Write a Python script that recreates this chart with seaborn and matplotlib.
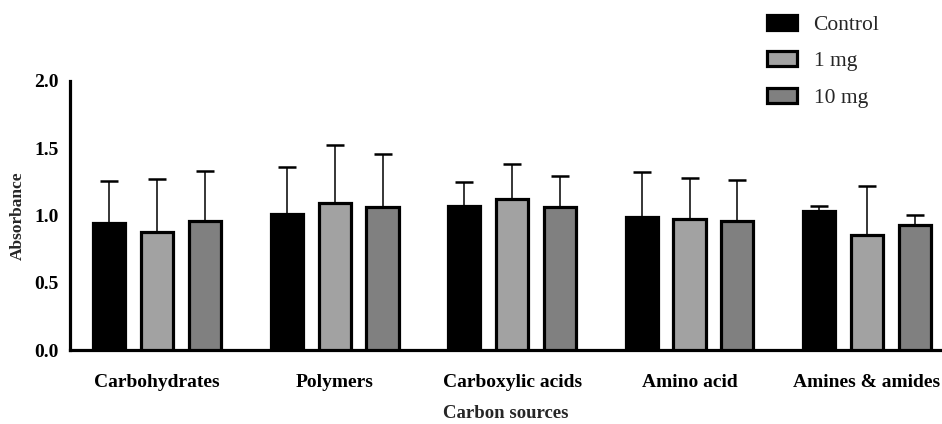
import matplotlib
matplotlib.use("Agg")
import matplotlib.pyplot as plt
import seaborn as sns
import pandas as pd
import numpy as np
from matplotlib.patches import Patch

categories = ["Carbohydrates", "Polymers", "Carboxylic acids", "Amino acid", "Amines & amides"]
groups = ["Control", "1 mg", "10 mg"]
control_mean = [0.94, 1.01, 1.07, 0.985, 1.03]
control_err = [0.315, 0.35, 0.175, 0.34, 0.04]
mg1_mean = [0.88, 1.095, 1.12, 0.975, 0.855]
mg1_err = [0.39, 0.43, 0.26, 0.305, 0.365]
mg10_mean = [0.955, 1.065, 1.06, 0.955, 0.93]
mg10_err = [0.375, 0.39, 0.235, 0.305, 0.075]
yticks = [0.0, 0.5, 1.0, 1.5, 2.0]
fills = ["#000000", "#a2a2a2", "#808080"]

sns.set_style("white")
plt.rcParams["font.family"] = ["Liberation Serif", "DejaVu Serif"]
plt.rcParams["font.weight"] = "bold"

means = [control_mean, mg1_mean, mg10_mean]
errs = [control_err, mg1_err, mg10_err]
rows = []
for g, m, e in zip(groups, means, errs):
    for c, mv, ev in zip(categories, m, e):
        rows.append({"Carbon sources": c, "Group": g, "Absorbance": mv, "err": ev})
df = pd.DataFrame(rows)

fig = plt.figure(figsize=(9.42, 4.24), dpi=100)
ax = fig.add_axes([0.0745, 0.1745, 0.925, 0.635])

sns.barplot(data=df, x="Carbon sources", y="Absorbance", hue="Group",
            hue_order=groups, order=categories, palette=fills,
            width=0.81, gap=0.33, errorbar=None, edgecolor="black",
            linewidth=2.3, ax=ax, legend=False, zorder=3)

# error bars (upper only) at bar centers
for bars, g in zip(ax.containers, groups):
    sub = df[df["Group"] == g].set_index("Carbon sources").loc[categories]
    xs = [b.get_x() + b.get_width() / 2 for b in bars]
    ax.errorbar(xs, sub["Absorbance"].values,
                yerr=[np.zeros(len(xs)), sub["err"].values],
                fmt="none", ecolor="black", elinewidth=1.1, capsize=6.5,
                capthick=1.8, zorder=2)

ax.set_ylim(0, 2.0)
ax.set_xlim(-0.49, 4.42)
ax.set_yticks(yticks)
ax.set_yticklabels([f"{t:.1f}" for t in yticks])
for s in ["top", "right"]:
    ax.spines[s].set_visible(False)
for s in ["left", "bottom"]:
    ax.spines[s].set_linewidth(2.3)
    ax.spines[s].set_color("black")
ax.tick_params(axis="both", which="major", direction="out", length=6,
               width=2.3, colors="black", labelsize=14, pad=2)
ax.tick_params(axis="x", length=7, pad=10)
for lab in ax.get_xticklabels() + ax.get_yticklabels():
    lab.set_fontweight("bold")
ax.set_xlabel("Carbon sources", fontsize=13.5, fontweight="bold", labelpad=10)
ax.set_ylabel("Absorbance", fontsize=12.5, fontweight="bold", labelpad=6)
ax.grid(False)

handles = [Patch(facecolor=f, edgecolor="black", linewidth=2.3, label=g)
           for f, g in zip(fills, groups)]
leg = fig.legend(handles=handles, loc="upper left", bbox_to_anchor=(0.794, 1.01),
                 frameon=False, prop={"family": ["Liberation Serif"], "weight": "normal", "size": 15.5},
                 handlelength=1.4, handleheight=0.7, labelspacing=0.75,
                 handletextpad=0.75)

fig.savefig("out.png", dpi=100)
